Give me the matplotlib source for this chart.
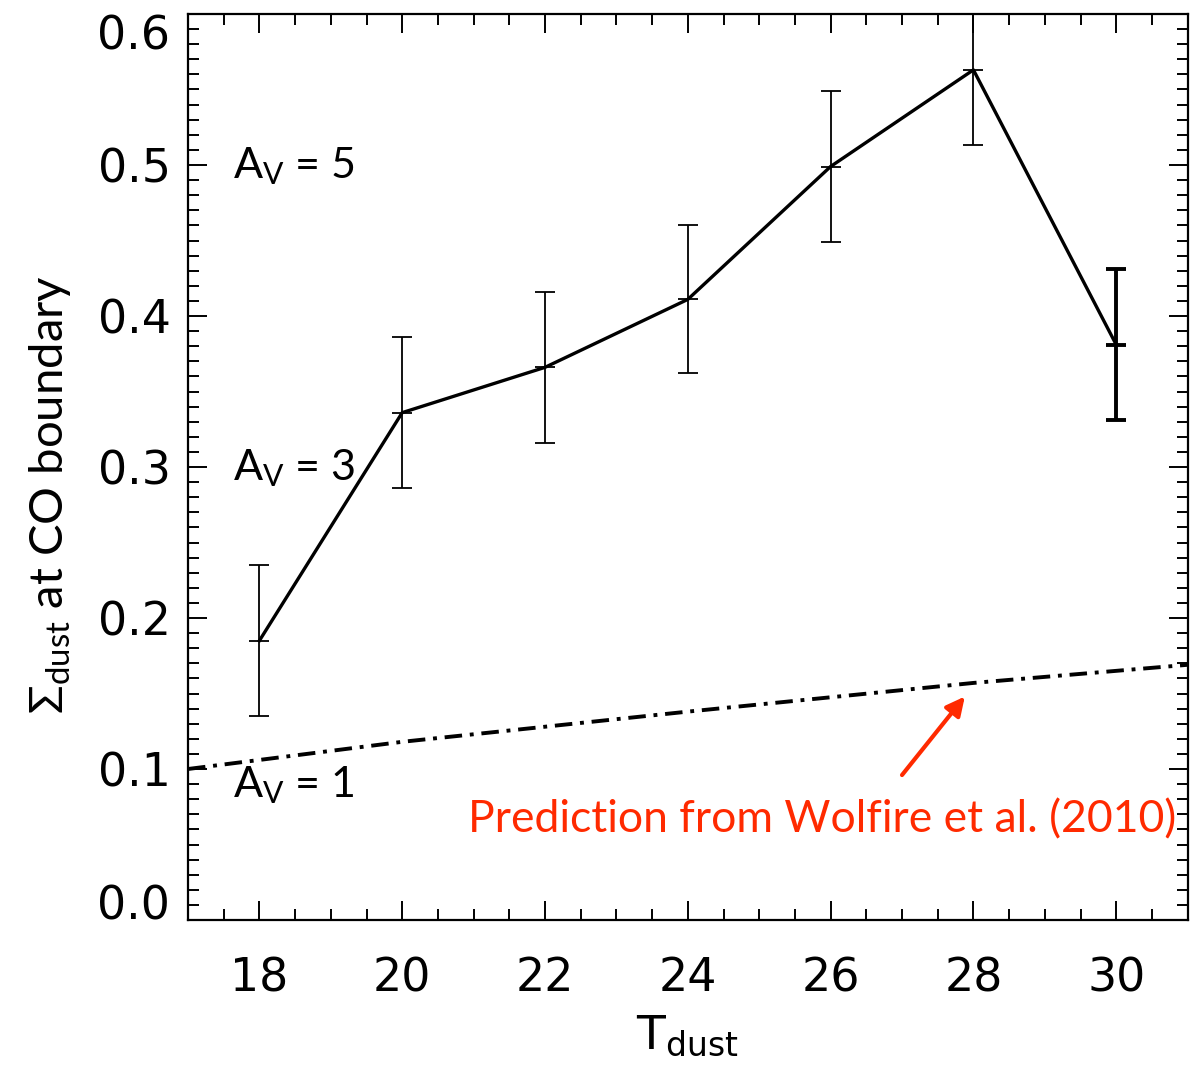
import numpy as np
import matplotlib
matplotlib.use('Agg')
import matplotlib.pyplot as plt
from matplotlib.ticker import MultipleLocator, FuncFormatter

plt.rcParams['mathtext.fontset'] = 'custom'
plt.rcParams['mathtext.rm'] = 'Lato'
plt.rcParams['mathtext.it'] = 'Lato'

# measured dust surface density at the CO boundary
t_dust = [18, 20, 22, 24, 26, 28, 30]
sigma_co = [0.185, 0.336, 0.366, 0.411, 0.499, 0.563, 0.381]
sigma_err = [0.050, 0.050, 0.050, 0.049, 0.050, 0.050, 0.050]

# Wolfire et al. (2010) prediction
t_model = [17, 20, 24, 28, 31]
sigma_model = [0.100, 0.118, 0.138, 0.157, 0.169]

av_levels = ['5', '3', '1']
av_y = [0.491, 0.291, 0.081]

y_lo, y_hi = 0.0, 0.6

fig = plt.figure(figsize=(11.9, 10.71), dpi=100)
ax = fig.add_axes([188 / 1190, 1 - 920 / 1071, 1 - 188 / 1190 - 0.002, (920 - 14) / 1071])

ax.plot(t_model, sigma_model, color='black', lw=2.8,
        linestyle=(0, (4.5, 2, 1.0, 2)))

ax.plot(t_dust, sigma_co, color='black', lw=2.4)
for i, (t, s, e) in enumerate(zip(t_dust, sigma_co, sigma_err)):
    lw = 2.8 if i == len(t_dust) - 1 else 1.3
    ax.errorbar(t, s, yerr=e, fmt='_', color='black', ms=14, mew=lw,
                elinewidth=lw, capsize=7, capthick=lw)

for lab, y in zip(av_levels, av_y):
    ax.text(17.63, y, r'$\mathregular{A_V}$ = ' + lab, fontsize=31,
            family='Lato', ha='left', va='baseline')

ax.annotate('', xy=(27.88, 0.148), xytext=(27.0, 0.096),
            arrowprops=dict(arrowstyle='-|>', color='#ff2a00', lw=3,
                            mutation_scale=28, shrinkA=0, shrinkB=0))
ax.text(20.92, 0.058, 'Prediction from Wolfire et al. (2010)', color='#ff2a00',
        fontsize=32, family='Lato', ha='left', va='baseline')

ax.set_xlim(17, 31)
ax.set_ylim(y_lo, y_hi)
ax.xaxis.set_major_locator(MultipleLocator(2))
ax.xaxis.set_minor_locator(MultipleLocator(0.5))
ax.yaxis.set_major_locator(MultipleLocator(0.1))
ax.yaxis.set_minor_locator(MultipleLocator(0.01))


def ylab(v, pos):
    # end labels are drawn separately so they sit inside the frame
    if abs(v - y_lo) < 1e-6 or abs(v - y_hi) < 1e-6:
        return ''
    return '%.1f' % v


ax.yaxis.set_major_formatter(FuncFormatter(ylab))
ytrans = ax.get_yaxis_transform()
ax.text(-0.018, y_lo, '%.1f' % y_lo, transform=ytrans, fontsize=33,
        ha='right', va='baseline')
ax.text(-0.018, y_hi, '%.1f' % y_hi, transform=ytrans, fontsize=33,
        ha='right', va='top')

ax.tick_params(which='both', direction='in', top=True, right=True, width=1.4)
ax.tick_params(which='major', length=14, labelsize=33)
ax.tick_params(which='minor', length=8)
ax.tick_params(axis='x', which='major', pad=26)
ax.tick_params(axis='y', which='major', pad=12)
for sp in ax.spines.values():
    sp.set_linewidth(1.6)

ax.set_xlabel(r'$\mathregular{T_{dust}}$', fontsize=34, family='DejaVu Sans')
ax.xaxis.set_label_coords(0.5, -0.103)
ax.set_ylabel(r'$\mathregular{\Sigma_{dust}}$ at CO boundary', fontsize=34, family='Lato')
ax.yaxis.set_label_coords(-0.115, 0.47)

fig.savefig('out.png', dpi=100)
